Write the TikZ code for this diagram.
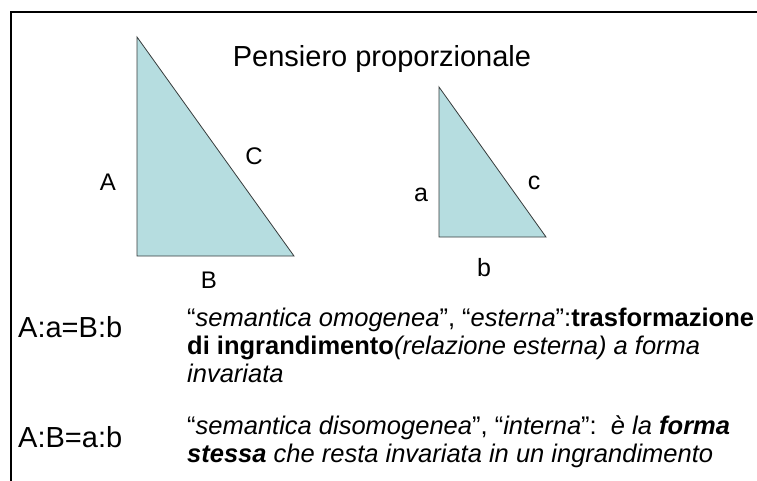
\documentclass[tikz,border=0pt]{standalone}
\usepackage{fontspec}
\setmainfont{Liberation Sans}
\definecolor{trifill}{RGB}{182,221,224}
\definecolor{triedge}{RGB}{55,60,60}
\begin{document}
\begin{tikzpicture}[x=1pt,y=-1pt,
  tri/.style={fill=trifill,draw=triedge,line width=0.8pt,line join=miter},
  biglab/.style={font=\fontsize{24}{26}\selectfont,inner sep=0pt},
  smalllab/.style={font=\fontsize{25}{27}\selectfont,inner sep=0pt},
  titlestyle/.style={font=\fontsize{29}{32}\selectfont,inner sep=0pt,anchor=base},
  ratio/.style={font=\fontsize{29}{32}\selectfont,inner sep=0pt,anchor=base west},
  body/.style={font=\fontsize{25.5}{28}\selectfont,inner sep=0pt,anchor=base west},
  frame/.style={line width=2.6pt,black}]
\useasboundingbox (0,0) rectangle (757,481);
% frame
\coordinate (fTR) at (757,12);
\coordinate (fTL) at (11,12);
\coordinate (fBL) at (11,481);
\draw[frame] (fTR) -- (fTL) -- (fBL);
% title
\node[titlestyle] (title) at (382,67) {Pensiero proporzionale};
% big triangle
\coordinate (T1) at (137,37);
\coordinate (L1) at (137,256);
\coordinate (R1) at (294,256);
\draw[tri] (T1) -- (L1) -- (R1) -- cycle;
\node[biglab] (labA) at (108,182) {A};
\node[biglab] (labC) at (254,156) {C};
\node[biglab] (labB) at (209,280) {B};
% small triangle
\coordinate (T2) at (439,87);
\coordinate (L2) at (439,237);
\coordinate (R2) at (546,237);
\draw[tri] (T2) -- (L2) -- (R2) -- cycle;
\node[smalllab] (laba) at (421,195) {a};
\node[smalllab] (labc) at (534,183) {c};
\node[smalllab] (labb) at (484,268) {b};
% ratios
\node[ratio] (r1) at (18,337) {A:a=B:b};
\node[ratio] (r2) at (18,447) {A:B=a:b};
% body text
\node[body] (l1) at (187,326) {“\textit{semantica omogenea}”, “\textit{esterna}”:\textbf{trasformazione}};
\node[body] (l2) at (187,354) {\textbf{di ingrandimento}\textit{(relazione esterna) a forma}};
\node[body] (l3) at (187,382) {\textit{invariata}};
\node[body] (m1) at (187,434) {“\textit{semantica disomogenea}”, “\textit{interna}”:\ \ \textit{è la} \textbf{\textit{forma}}};
\node[body] (m2) at (187,462) {\textbf{\textit{stessa}} \textit{che resta invariata in un ingrandimento}};
\end{tikzpicture}
\end{document}
